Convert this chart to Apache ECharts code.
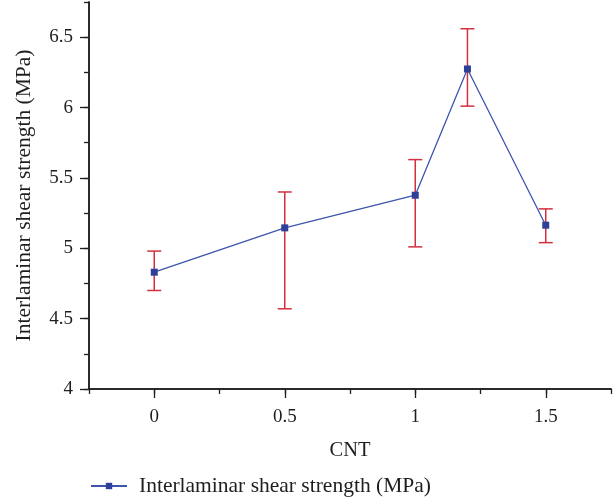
<!DOCTYPE html>
<html>
<head>
<meta charset="utf-8">
<script src="https://cdn.jsdelivr.net/npm/echarts@6/dist/echarts.min.js"></script>
<style>html,body{margin:0;padding:0;background:#fff}#c{width:614px;height:498px}</style>
</head>
<body>
<div id="c"></div>
<script>
const cnt = [0, 0.5, 1, 1.2, 1.5];
const ilss = [4.83, 5.145, 5.377, 6.274, 5.164];
const errLow = [4.70, 4.57, 5.01, 6.01, 5.04];
const errHigh = [4.98, 5.40, 5.63, 6.56, 5.28];
const xTicks = [0, 0.5, 1, 1.5];
const yTicks = [4, 4.5, 5, 5.5, 6, 6.5];
const seriesName = 'Interlaminar shear strength (MPa)';
const xName = 'CNT';

const FONT = '"Liberation Serif", "DejaVu Serif", serif';
const INK = '#1e1e1e';
const chart = echarts.init(document.getElementById('c'));

function minorAxis(extra) {
  return Object.assign({
    type: 'value',
    axisLine: { show: true, onZero: false, lineStyle: { color: INK, width: 1.5 } },
    axisTick: { show: true, length: 5, lineStyle: { color: INK, width: 1.3 } },
    axisLabel: { show: false },
    splitLine: { show: false }
  }, extra);
}
function majorAxis(extra, ticks, margin) {
  return Object.assign({
    type: 'value',
    axisLine: { show: true, onZero: false, lineStyle: { color: INK, width: 1.5 } },
    axisTick: { show: true, length: 9, customValues: ticks, lineStyle: { color: INK, width: 1.3 } },
    axisLabel: { show: true, customValues: ticks, margin: margin, fontFamily: FONT, fontSize: 19, color: INK },
    splitLine: { show: false }
  }, extra);
}

chart.setOption({
  animation: false,
  textStyle: { fontFamily: FONT },
  grid: { left: 89, right: 3, top: 2, bottom: 109, containLabel: false },
  legend: {
    left: 85, top: 470,
    itemWidth: 36, itemHeight: 8, itemGap: 10,
    textStyle: { fontFamily: FONT, fontSize: 21.5, color: INK, padding: [0, 0, 0, 7] },
    data: [seriesName]
  },
  xAxis: [
    minorAxis({ min: -0.25, max: 1.75, interval: 0.25, position: 'bottom' }),
    majorAxis({ min: -0.25, max: 1.75, interval: 0.25, position: 'bottom',
      name: xName, nameLocation: 'middle', nameGap: 51,
      nameTextStyle: { fontFamily: FONT, fontSize: 20.5, color: INK } }, xTicks, 19)
  ],
  yAxis: [
    minorAxis({ min: 4, max: 6.75, interval: 0.25, position: 'left' }),
    majorAxis({ min: 4, max: 6.75, interval: 0.25, position: 'left',
      name: seriesName, nameLocation: 'middle', nameGap: 54,
      nameTextStyle: { fontFamily: FONT, fontSize: 21.5, color: INK } }, yTicks, 16)
  ],
  series: [
    {
      name: seriesName,
      type: 'line',
      data: cnt.map((x, i) => [x, ilss[i]]),
      symbol: 'rect', symbolSize: 7,
      itemStyle: { color: '#2d3f98' },
      lineStyle: { color: '#3d55ad', width: 1.3 },
      z: 3
    },
    {
      type: 'custom',
      name: 'err',
      data: cnt.map((x, i) => [x, errLow[i], errHigh[i]]),
      renderItem: (params, api) => {
        const x = api.value(0);
        const lo = api.coord([x, api.value(1)]);
        const hi = api.coord([x, api.value(2)]);
        const hw = 7;
        const style = { stroke: '#d2303f', lineWidth: 1.5, fill: null };
        return {
          type: 'group',
          children: [
            { type: 'line', shape: { x1: lo[0], y1: lo[1], x2: hi[0], y2: hi[1] }, style },
            { type: 'line', shape: { x1: lo[0] - hw, y1: lo[1], x2: lo[0] + hw, y2: lo[1] }, style },
            { type: 'line', shape: { x1: hi[0] - hw, y1: hi[1], x2: hi[0] + hw, y2: hi[1] }, style }
          ]
        };
      },
      z: 2,
      silent: true
    }
  ]
});
</script>
</body>
</html>
